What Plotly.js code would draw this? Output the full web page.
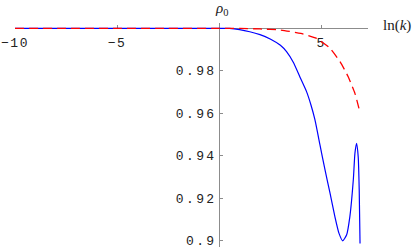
<!DOCTYPE html>
<html>
<head>
<meta charset="utf-8">
<script src="https://cdn.plot.ly/plotly-3.0.1.min.js"></script>
<style>
html,body{margin:0;padding:0;background:#fff;}
#chart{width:416px;height:247px;}
.ytick text{letter-spacing:2.4px;}
.xtick text{letter-spacing:1.5px;}
</style>
</head>
<body>
<div id="chart"></div>
<script>
// ln(k) values and rho_0 values
const blueX = [-10, -7.5, -5, -2.5, 0, 0.5, 1.0, 1.5, 2.0, 2.5, 3.0, 3.3, 3.63, 3.96, 4.28, 4.5, 4.69, 4.94, 5.18, 5.43, 5.67, 5.87, 6.05, 6.24, 6.40, 6.57, 6.65, 6.73, 6.81, 6.86, 6.90];
const blueY = [1.0, 1.0, 1.0, 1.0, 1.0, 0.99995, 0.9994, 0.9984, 0.9970, 0.9950, 0.9920, 0.9890, 0.9840, 0.9770, 0.9702, 0.9638, 0.9570, 0.9450, 0.9336, 0.9224, 0.9113, 0.9035, 0.9000, 0.9027, 0.9113, 0.9286, 0.9412, 0.9459, 0.9396, 0.9239, 0.8988];
const redX = [-10, -7.5, -5, -2.5, 0, 1.0, 2.0, 3.0, 4.0, 4.77, 5.43, 5.92, 6.32, 6.65, 6.9];
const redY = [1.0, 1.0, 1.0, 1.0, 1.0, 0.99995, 0.9997, 0.9992, 0.9976, 0.9953, 0.9906, 0.9843, 0.9772, 0.9694, 0.9603];
const xTickVals = [-10, -5, 5];
const yTickVals = [0.9, 0.92, 0.94, 0.96, 0.98];
const yTickText = ["0.9", "0.92", "0.94", "0.96", "0.98"];

const xRange = [-10, 7.29];
const yRange = [0.8971, 1.0025];
const xAxisPos = (1 - yRange[0]) / (yRange[1] - yRange[0]);
const yAxisPos = (0 - xRange[0]) / (xRange[1] - xRange[0]);

const axisCommon = {
  showgrid: false, zeroline: false, showline: true,
  linecolor: '#8c8c8c', linewidth: 1,
  ticks: 'inside', ticklen: 3, tickwidth: 1, tickcolor: '#8c8c8c',
  tickfont: {family: 'Liberation Mono, monospace', size: 13, color: '#222'},
  anchor: 'free', fixedrange: true, layer: 'below traces',
  ticklabeloverflow: 'allow'
};

const data = [
  {x: blueX, y: blueY, type: 'scatter', mode: 'lines', cliponaxis: false,
   line: {color: '#0000ff', width: 1.2, shape: 'spline', smoothing: 0.5},
   hoverinfo: 'skip'},
  {x: redX, y: redY, type: 'scatter', mode: 'lines', cliponaxis: false,
   line: {color: '#ff0000', width: 1.3, dash: '9px,5px', shape: 'spline', smoothing: 0.5},
   hoverinfo: 'skip'}
];

const layout = {
  width: 416, height: 247,
  margin: {l: 15, r: 48, t: 23, b: 0, pad: 0},
  paper_bgcolor: '#fff', plot_bgcolor: '#fff',
  showlegend: false,
  xaxis: Object.assign({}, axisCommon, {
    range: xRange, position: xAxisPos, side: 'bottom',
    tickmode: 'array', tickvals: xTickVals, ticklabelstandoff: 2
  }),
  yaxis: Object.assign({}, axisCommon, {
    range: yRange, position: yAxisPos, side: 'left',
    tickmode: 'array', tickvals: yTickVals, ticktext: yTickText
  }),
  annotations: [
    {text: '<i>ρ</i><sub>0</sub>', xref: 'x', x: 0.1, yref: 'paper', y: 1.0625,
     xanchor: 'center', yanchor: 'middle', showarrow: false,
     font: {family: 'Liberation Serif, serif', size: 15, color: '#222'}},
    {text: 'ln(<i>k</i>)', xref: 'paper', x: 1.037, yref: 'paper', y: 0.991,
     xanchor: 'left', yanchor: 'middle', showarrow: false,
     font: {family: 'Liberation Serif, serif', size: 15, color: '#222'}}
  ]
};

Plotly.newPlot('chart', data, layout, {displayModeBar: false, staticPlot: true});
</script>
</body>
</html>
